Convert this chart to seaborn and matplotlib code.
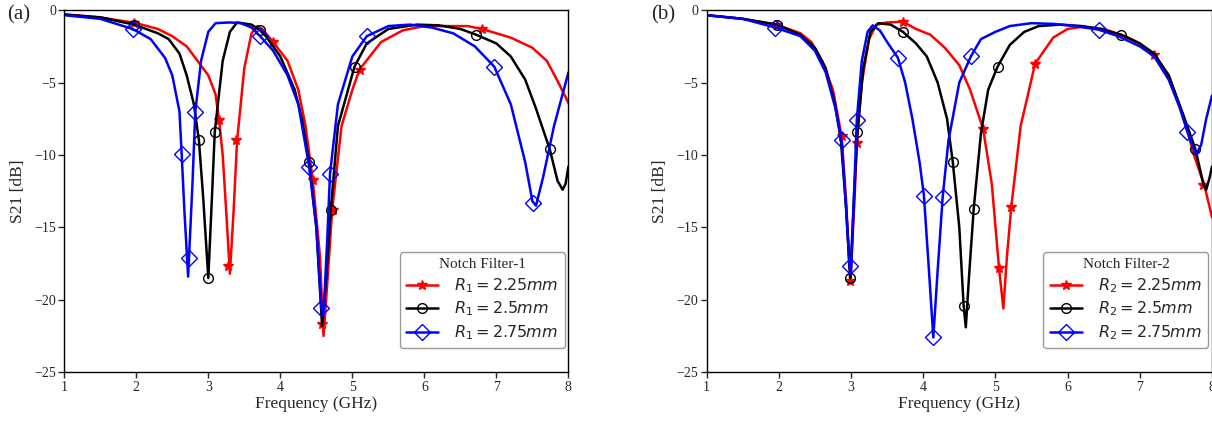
import numpy as np
import pandas as pd
import matplotlib
matplotlib.use('Agg')
import matplotlib.pyplot as plt
import seaborn as sns
from matplotlib.lines import Line2D

# ---- panel (a): Notch Filter-1 ----
a_red_f = [1.0, 1.5, 2.0, 2.3, 2.5, 2.7, 2.85, 3.0, 3.1, 3.15, 3.2, 3.25, 3.3, 3.35, 3.4, 3.5, 3.6, 3.68,
           3.75, 3.9, 4.1, 4.25, 4.35, 4.45, 4.55, 4.6, 4.65, 4.72, 4.85, 5.0, 5.1, 5.4, 5.7, 6.0, 6.3,
           6.6, 6.8, 7.0, 7.2, 7.5, 7.7, 7.85, 8.0]
a_red_s = [-0.3, -0.5, -0.9, -1.3, -1.8, -2.5, -3.5, -4.5, -5.8, -7.6, -10.0, -14.0, -18.2, -14.0, -9.0,
           -4.0, -1.6, -1.1, -1.3, -2.2, -3.5, -5.5, -8.0, -11.7, -17.0, -22.5, -19.0, -13.8, -8.0, -5.5,
           -4.1, -2.2, -1.4, -1.1, -1.1, -1.1, -1.3, -1.6, -1.9, -2.6, -3.5, -4.9, -6.4]
a_red_mf = [1.97, 3.15, 3.28, 3.39, 3.9, 4.45, 4.58, 4.73, 5.1, 6.8]
a_red_ms = [-0.9, -7.6, -17.7, -9.0, -2.2, -11.7, -21.7, -13.8, -4.1, -1.3]

a_blk_f = [1.0, 1.5, 1.97, 2.3, 2.45, 2.6, 2.7, 2.8, 2.87, 2.93, 3.0, 3.05, 3.09, 3.2, 3.3, 3.4, 3.6,
           3.72, 3.8, 4.0, 4.2, 4.3, 4.4, 4.5, 4.58, 4.63, 4.7, 4.8, 5.03, 5.2, 5.5, 5.9, 6.2, 6.5,
           6.72, 7.0, 7.2, 7.4, 7.55, 7.74, 7.85, 7.92, 7.96, 8.0]
a_blk_s = [-0.3, -0.5, -1.0, -1.6, -2.0, -3.0, -4.5, -6.5, -9.0, -13.0, -18.5, -13.0, -8.4, -3.5, -1.5,
           -0.85, -1.0, -1.4, -1.8, -3.2, -5.5, -7.5, -10.5, -15.0, -21.8, -19.0, -13.8, -8.0, -3.9,
           -2.3, -1.3, -1.0, -1.05, -1.3, -1.7, -2.3, -3.2, -4.8, -6.8, -9.6, -11.8, -12.4, -12.0, -10.8]
a_blk_mf = [1.97, 2.87, 3.0, 3.09, 3.72, 4.4, 4.7, 5.03, 6.72, 7.74]
a_blk_ms = [-1.0, -9.0, -18.5, -8.4, -1.4, -10.5, -13.8, -3.9, -1.7, -9.6]

a_blu_f = [1.0, 1.5, 1.95, 2.2, 2.4, 2.5, 2.6, 2.63, 2.67, 2.72, 2.78, 2.82, 2.9, 3.0, 3.1, 3.3, 3.45,
           3.6, 3.72, 3.9, 4.1, 4.25, 4.4, 4.5, 4.57, 4.6, 4.65, 4.69, 4.8, 5.0, 5.2, 5.5, 5.8, 6.1,
           6.4, 6.7, 6.97, 7.2, 7.4, 7.5, 7.55, 7.65, 7.8, 8.0]
a_blu_s = [-0.35, -0.6, -1.3, -2.0, -3.3, -4.5, -7.0, -9.9, -14.0, -18.4, -12.0, -7.0, -3.5, -1.5,
           -0.9, -0.85, -0.9, -1.2, -1.8, -2.8, -4.5, -6.5, -10.8, -15.0, -20.6, -21.0, -16.0, -11.3,
           -6.5, -3.2, -1.8, -1.1, -1.0, -1.2, -1.6, -2.5, -3.9, -6.5, -10.5, -13.2, -13.5, -11.5,
           -8.0, -4.3]
a_blu_mf = [1.95, 2.63, 2.73, 2.82, 3.72, 4.4, 4.57, 4.69, 5.2, 6.97, 7.51]
a_blu_ms = [-1.3, -9.9, -17.1, -7.0, -1.8, -10.8, -20.6, -11.3, -1.8, -3.9, -13.3]

# ---- panel (b): Notch Filter-2 ----
b_red_f = [1.0, 1.5, 1.97, 2.3, 2.45, 2.6, 2.75, 2.87, 2.93, 2.99, 3.05, 3.08, 3.15, 3.25, 3.35, 3.5,
           3.72, 3.9, 4.1, 4.3, 4.5, 4.65, 4.83, 4.95, 5.05, 5.11, 5.16, 5.22, 5.35, 5.55, 5.8, 6.0,
           6.2, 6.5, 6.8, 7.0, 7.19, 7.4, 7.6, 7.75, 7.9, 8.0]
b_red_s = [-0.35, -0.6, -1.0, -1.6, -2.2, -3.5, -5.5, -8.7, -13.0, -18.8, -13.0, -9.2, -5.0, -2.0,
           -1.0, -0.85, -0.8, -1.3, -1.7, -2.6, -3.8, -5.5, -8.2, -12.0, -17.8, -20.6, -17.0, -13.6,
           -8.0, -3.7, -1.9, -1.3, -1.15, -1.3, -1.8, -2.3, -3.1, -4.5, -7.3, -10.0, -12.2, -14.3]
b_red_mf = [1.97, 2.87, 2.99, 3.08, 3.72, 4.83, 5.05, 5.22, 5.55, 7.19, 7.88]
b_red_ms = [-1.0, -8.7, -18.7, -9.2, -0.8, -8.2, -17.8, -13.6, -3.7, -3.1, -12.1]

b_blk_f = [1.0, 1.5, 1.97, 2.3, 2.5, 2.65, 2.78, 2.86, 2.93, 2.99, 3.04, 3.09, 3.17, 3.27, 3.38, 3.55,
           3.72, 3.9, 4.05, 4.2, 4.33, 4.41, 4.5, 4.56, 4.59, 4.64, 4.7, 4.8, 4.9, 5.03, 5.2, 5.4,
           5.6, 5.9, 6.2, 6.45, 6.74, 7.0, 7.2, 7.4, 7.6, 7.77, 7.88, 7.92, 7.97, 8.0]
b_blk_s = [-0.35, -0.6, -1.0, -1.7, -2.6, -4.0, -6.5, -9.0, -13.5, -18.5, -13.0, -8.4, -4.0, -1.5,
           -0.9, -1.0, -1.5, -2.3, -3.2, -5.0, -7.5, -10.5, -15.0, -20.4, -21.9, -18.0, -13.7, -8.5,
           -5.5, -3.9, -2.4, -1.5, -1.1, -1.0, -1.1, -1.3, -1.7, -2.3, -3.0, -4.5, -7.2, -9.6, -12.0,
           -12.4, -11.5, -10.8]
b_blk_mf = [1.97, 2.99, 3.09, 3.72, 4.41, 4.56, 4.7, 5.03, 6.74, 7.77]
b_blk_ms = [-1.0, -18.5, -8.4, -1.5, -10.5, -20.4, -13.7, -3.9, -1.7, -9.6]

b_blu_f = [1.0, 1.5, 1.95, 2.3, 2.5, 2.65, 2.78, 2.87, 2.93, 2.98, 3.0, 3.04, 3.08, 3.15, 3.23, 3.3,
           3.4, 3.5, 3.65, 3.75, 3.85, 3.95, 4.01, 4.08, 4.14, 4.2, 4.27, 4.35, 4.5, 4.66, 4.8, 5.0,
           5.2, 5.5, 5.8, 6.1, 6.43, 6.7, 7.0, 7.2, 7.4, 7.55, 7.66, 7.78, 7.85, 7.92, 8.0]
b_blu_s = [-0.35, -0.6, -1.2, -1.8, -2.8, -4.3, -6.7, -9.0, -13.5, -17.7, -18.2, -13.0, -7.6, -3.5,
           -1.5, -1.05, -1.4, -2.2, -3.3, -5.0, -7.5, -10.5, -12.8, -18.0, -22.6, -18.0, -12.9, -9.0,
           -5.0, -3.2, -2.0, -1.5, -1.1, -0.9, -0.95, -1.1, -1.35, -1.8, -2.5, -3.2, -4.8, -6.7, -8.4,
           -10.0, -9.3, -7.5, -5.9]
b_blu_mf = [1.95, 2.87, 2.98, 3.08, 3.65, 4.01, 4.14, 4.27, 4.66, 6.43, 7.66]
b_blu_ms = [-1.2, -9.0, -17.7, -7.6, -3.3, -12.8, -22.6, -12.9, -3.2, -1.35, -8.4]

labels_a = [r'$R_1 = 2.25mm$', r'$R_1 = 2.5mm$', r'$R_1 = 2.75mm$']
labels_b = [r'$R_2 = 2.25mm$', r'$R_2 = 2.5mm$', r'$R_2 = 2.75mm$']

sns.set_style('ticks')
plt.rcParams['font.family'] = ['Liberation Serif', 'DejaVu Serif']
plt.rcParams['mathtext.fontset'] = 'dejavusans'
plt.rcParams['axes.unicode_minus'] = True

styles = [
    dict(color='red', marker='*', ms=7, mfc='red'),
    dict(color='black', marker='o', ms=7, mfc='none'),
    dict(color='blue', marker='D', ms=8, mfc='none'),
]

fig = plt.figure(figsize=(12.12, 4.22), dpi=100)
ax_a = fig.add_axes([0.053, 0.118, 0.416, 0.858])
ax_b = fig.add_axes([0.583, 0.118, 0.417, 0.858])


def draw(ax, curves, labels, title):
    handles = []
    for (f, s, mf, ms), st, lab in zip(curves, styles, labels):
        d = pd.DataFrame({'f': f, 's': s})
        sns.lineplot(data=d, x='f', y='s', ax=ax, color=st['color'], lw=1.8, sort=False,
                     estimator=None, legend=False)
        ax.plot(mf, ms, ls='none', marker=st['marker'], ms=st['ms'], mfc=st['mfc'],
                mec=st['color'], mew=1.0)
        handles.append(Line2D([], [], color=st['color'], lw=1.8, marker=st['marker'],
                              ms=st['ms'], mfc=st['mfc'], mec=st['color'], mew=1.0))
    ax.set_xlim(1, 8)
    ax.set_ylim(-25, 0)
    ax.set_xticks(range(1, 9))
    ax.set_yticks([0, -5, -10, -15, -20, -25])
    ax.set_xlabel('Frequency (GHz)', fontsize=12.5, labelpad=2)
    ax.set_ylabel('S21 [dB]', fontsize=12.5, labelpad=6)
    ax.tick_params(direction='out', length=4, width=1, labelsize=10, pad=2)
    for sp in ax.spines.values():
        sp.set_linewidth(1.0)
        sp.set_color('black')
    leg = ax.legend(handles, labels, title=title, loc='lower right',
                    bbox_to_anchor=(0.993, 0.066), borderaxespad=0,
                    prop={'size': 11.5, 'family': 'DejaVu Sans'},
                    title_fontsize=11, handlelength=2.0, handletextpad=1.0, borderpad=0.4,
                    labelspacing=0.3, edgecolor='gray')
    leg.get_title().set_family('Liberation Serif')


draw(ax_a, [(a_red_f, a_red_s, a_red_mf, a_red_ms),
            (a_blk_f, a_blk_s, a_blk_mf, a_blk_ms),
            (a_blu_f, a_blu_s, a_blu_mf, a_blu_ms)], labels_a, 'Notch Filter-1')
draw(ax_b, [(b_red_f, b_red_s, b_red_mf, b_red_ms),
            (b_blk_f, b_blk_s, b_blk_mf, b_blk_ms),
            (b_blu_f, b_blu_s, b_blu_mf, b_blu_ms)], labels_b, 'Notch Filter-2')

fig.text(0.006, 0.955, '(a)', fontsize=15)
fig.text(0.537, 0.955, '(b)', fontsize=15)

fig.savefig('out.png', dpi=100)
